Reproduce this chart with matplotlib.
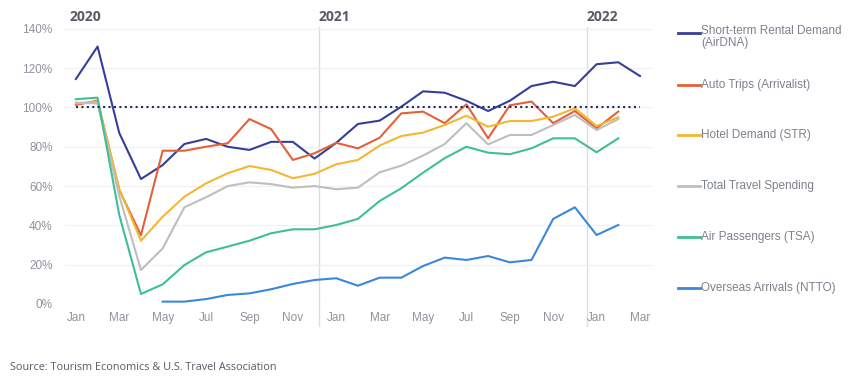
import numpy as np
import matplotlib
matplotlib.use("Agg")
import matplotlib.pyplot as plt
from matplotlib.lines import Line2D

# months from Jan 2020 (index 0) to Mar 2022 (index 26)
month_ticks = ["Jan", "Mar", "May", "Jul", "Sep", "Nov",
               "Jan", "Mar", "May", "Jul", "Sep", "Nov", "Jan", "Mar"]
years = ["2020", "2021", "2022"]

airdna = [114.5, 131, 87, 63.6, 70.7, 81.4, 84, 80, 78.4, 82.5, 82.5, 74,
          82, 91.6, 93.3, 100.4, 108.2, 107.5, 103.4, 98.2, 103.4, 110.9,
          113.1, 110.9, 122, 123, 116]
auto_trips = [101.3, 103.5, 58, 35, 78, 78, 80, 81.8, 94.1, 89, 73.3, 76.7,
              82, 79.2, 84.6, 97, 97.9, 92, 101.6, 84.3, 101.1, 103, 92, 98.2,
              89.4, 97.9]
hotel = [102, 103, 58.5, 32.2, 44.4, 54.6, 61.4, 66.5, 70.2, 68.2, 64, 66.2,
         71.1, 73.3, 80.6, 85.5, 87.2, 91.1, 95.8, 90.2, 93.1, 93.1, 95.3, 99.6,
         90.6, 95]
spending = [102.5, 102, 55, 17.3, 28.3, 49.2, 54.3, 60, 61.9, 61, 59.2, 60,
            58.4, 59.2, 67, 70.4, 75.5, 81.4, 92, 81.2, 86, 86, 91.1, 96.2,
            88.5, 94.1]
tsa = [104.2, 105, 45.3, 5.1, 10, 19.8, 26.3, 29.2, 32.2, 36, 38, 38,
       40.2, 43.3, 52.4, 58.9, 66.8, 74.2, 80, 77, 76.2, 79.2, 84.3, 84.3,
       77.2, 84.3]
# overseas arrivals start in May 2020
ntto = [1.2, 1.2, 2.5, 4.6, 5.4, 7.5, 10.2, 12.2,
        13.1, 9.3, 13.4, 13.4, 19.3, 23.6, 22.4, 24.4, 21.2, 22.4, 43.3, 49.2,
        35.1, 40.2]
ntto_start = 4

labels = ["Short-term Rental Demand\n(AirDNA)", "Auto Trips (Arrivalist)",
          "Hotel Demand (STR)", "Total Travel Spending",
          "Air Passengers (TSA)", "Overseas Arrivals (NTTO)"]
colors = ["#353F98", "#E5603A", "#F4B731", "#BEBEBE", "#3FBF95", "#3B87DA"]

fig = plt.figure(figsize=(8.58, 3.87), dpi=100)
ax = fig.add_axes([0.0758, 0.2145, 0.684, 0.716])

series = [airdna, auto_trips, hotel, spending, tsa]
for vals, col in zip(series, colors[:5]):
    ax.plot(np.arange(len(vals)), vals, color=col, lw=1.5, zorder=3)
ax.plot(np.arange(ntto_start, ntto_start + len(ntto)), ntto,
        color=colors[5], lw=1.5, zorder=3)

# 100% baseline
ax.plot([0, 26], [100, 100], color="#1F2A5C", lw=1.5, ls=(0, (1, 1.6)), zorder=4)

ax.set_xlim(-0.5, 26.55)
ax.set_ylim(0, 141)
ax.set_yticks(np.arange(0, 141, 20))
ax.set_yticklabels([f"{v}%" for v in range(0, 141, 20)])
ax.set_xticks(np.arange(0, 27, 2))
ax.set_xticklabels(month_ticks)
ax.grid(axis="y", color="#F0F0F0", lw=0.9, zorder=0)
for s in ax.spines.values():
    s.set_visible(False)
ax.tick_params(length=0, colors="#8F939C", labelsize=8.5)
ax.tick_params(axis="x", pad=6)
ax.tick_params(axis="y", pad=9)
for t in ax.get_xticklabels() + ax.get_yticklabels():
    t.set_family("Liberation Sans")

# year separators and labels
for xv in [11.2, 23.55]:
    ax.axvline(xv, ymin=-0.08, ymax=1.0, color="#DCDCDC", lw=1.0,
               clip_on=False, zorder=1)
for xv, yr in zip([-0.3, 11.2, 23.55], years):
    ax.text(xv, 146, yr, fontsize=10, fontweight="bold", color="#555A66",
            family="Open Sans", ha="left", va="center")

# legend drawn at the right
leg_y = [0.915, 0.780, 0.650, 0.520, 0.388, 0.257]
for lab, col, y in zip(labels, colors, leg_y):
    fig.add_artist(Line2D([0.79, 0.816], [y, y], color=col, lw=2))
    ty = y + 0.021 if "\n" in lab else y
    fig.text(0.817, ty, lab, fontsize=8.5, color="#7D818C",
             family="Liberation Sans", ha="left",
             va="top" if "\n" in lab else "center", linespacing=1.0)

fig.text(0.012, 0.045, "Source: Tourism Economics & U.S. Travel Association",
         fontsize=7.8, color="#555A66", family="Open Sans")

fig.savefig("out.png", dpi=100)
